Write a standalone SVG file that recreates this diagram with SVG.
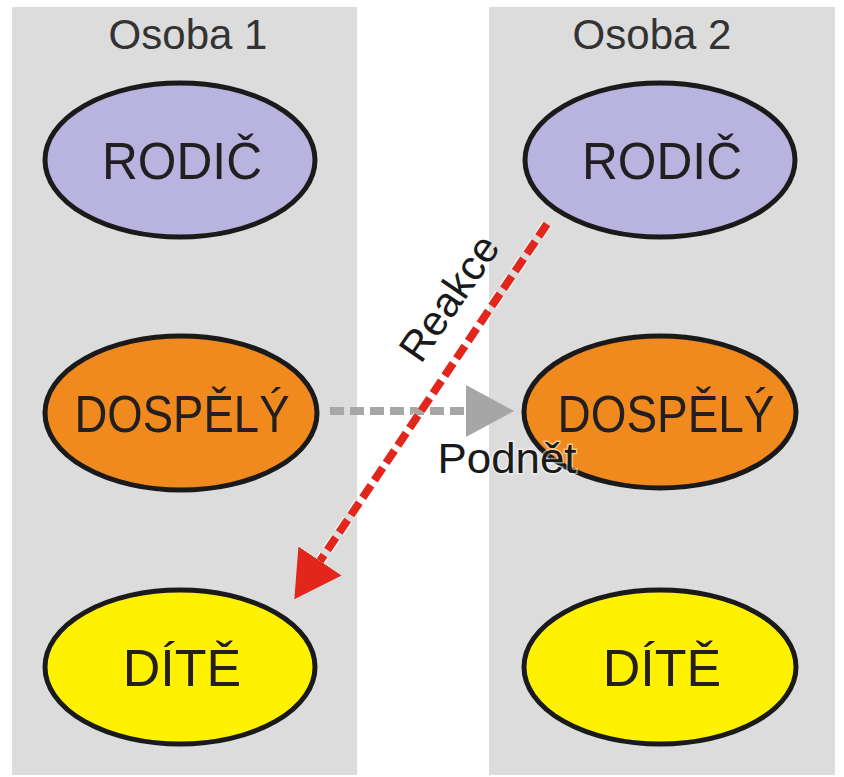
<svg xmlns="http://www.w3.org/2000/svg" width="844" height="777" viewBox="0 0 844 777">
<style>
.panel{fill:#dcdcdc}
.node ellipse{stroke:#1a1a1a;stroke-width:5}
.rodic{fill:#b9b3df}
.dospely{fill:#f08a1e}
.dite{fill:#fff200}
.lbl{font-family:"Liberation Sans",Arial,sans-serif;font-size:52px;fill:#231f20;text-anchor:middle}
.head{font-family:"Liberation Sans",Arial,sans-serif;font-size:42px;fill:#333;text-anchor:middle}
.elbl{font-family:"Liberation Sans",Arial,sans-serif;font-size:42px;fill:#1a1a1a;text-anchor:middle}
</style>
<defs>
<marker id="grayHead" markerUnits="userSpaceOnUse" markerWidth="50" markerHeight="52" refX="0" refY="26" orient="auto" viewBox="0 0 50 52">
<path d="M0,0 L48,26 L0,52 Z" fill="#a6a6a6"/>
</marker>
<marker id="redHead" markerUnits="userSpaceOnUse" markerWidth="50" markerHeight="52" refX="0" refY="26" orient="auto" viewBox="0 0 50 52">
<path d="M0,0 L46,26 L0,52 Z" fill="#e3261c"/>
</marker>
</defs>
<rect width="844" height="777" fill="#ffffff"/>
<rect class="panel" x="12" y="7" width="345" height="768"/>
<rect class="panel" x="489" y="7" width="346" height="768"/>
<text class="head" x="188" y="49">Osoba 1</text>
<text class="head" x="652" y="49">Osoba 2</text>
<g id="rodic1" class="node"><ellipse class="rodic" cx="180" cy="160" rx="135" ry="77"/><text class="lbl" x="182" y="179" textLength="160" lengthAdjust="spacingAndGlyphs">RODIČ</text></g>
<g id="rodic2" class="node"><ellipse class="rodic" cx="660" cy="160" rx="135" ry="77"/><text class="lbl" x="662" y="179" textLength="160" lengthAdjust="spacingAndGlyphs">RODIČ</text></g>
<g id="dospely1" class="node"><ellipse class="dospely" cx="181" cy="413" rx="136" ry="77"/><text class="lbl" x="182" y="432" textLength="215" lengthAdjust="spacingAndGlyphs">DOSPĚLÝ</text></g>
<g id="dospely2" class="node"><ellipse class="dospely" cx="660" cy="412" rx="136" ry="76"/><text class="lbl" x="666" y="432" textLength="217" lengthAdjust="spacingAndGlyphs">DOSPĚLÝ</text></g>
<g id="dite1" class="node"><ellipse class="dite" cx="180" cy="667" rx="135" ry="77"/><text class="lbl" x="182" y="686">DÍTĚ</text></g>
<g id="dite2" class="node"><ellipse class="dite" cx="660" cy="667" rx="136" ry="77"/><text class="lbl" x="662" y="686">DÍTĚ</text></g>
<g id="connectors">
<line x1="330" y1="411" x2="466" y2="411" stroke="#a6a6a6" stroke-width="8" stroke-dasharray="14 6" marker-end="url(#grayHead)"/>
<line x1="547" y1="224" x2="320" y2="561" stroke="#ffffff" stroke-opacity="0.6" stroke-width="11" stroke-dasharray="15 6"/>
<line x1="547" y1="224" x2="320" y2="561" stroke="#e3261c" stroke-width="8" stroke-dasharray="15 6" marker-end="url(#redHead)"/>
<text class="elbl" transform="translate(461 306) rotate(-55.5)" x="0" y="0">Reakce</text>
<text class="elbl" x="507" y="473" textLength="139" lengthAdjust="spacingAndGlyphs" stroke="#ffffff" stroke-width="3" stroke-opacity="0.5" paint-order="stroke">Podnět</text>
</g>
</svg>
